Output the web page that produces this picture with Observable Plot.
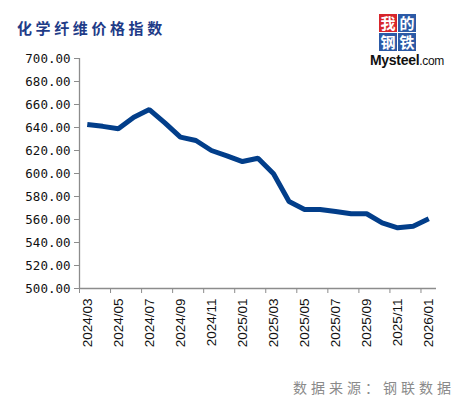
<!DOCTYPE html>
<html>
<head>
<meta charset="utf-8">
<script src="https://cdn.jsdelivr.net/npm/d3@7"></script>
<script src="https://cdn.jsdelivr.net/npm/@observablehq/plot@0.6"></script>
<style>
  html, body { margin: 0; padding: 0; background: #fff; }
  #wrap { position: relative; width: 458px; height: 397px; overflow: hidden; }
  #title { position: absolute; left: 17px; top: 18px; font-family: "Noto Sans CJK SC", sans-serif; font-weight: 700; font-size: 15px; letter-spacing: 3.6px; color: #1f3c88; line-height: 20px; white-space: nowrap; }
  #source { position: absolute; left: 293px; top: 377px; font-family: "Noto Sans CJK SC", sans-serif; font-size: 14px; letter-spacing: 4px; color: #8a8a8a; line-height: 20px; white-space: nowrap; }
  #logo { position: absolute; left: 379px; top: 14px; width: 38px; }
  .cell { position: absolute; width: 18px; height: 18px; color: #fff; font-family: "Noto Sans CJK SC", sans-serif; font-weight: 700; font-size: 15px; line-height: 18px; text-align: center; }
  #mys { position: absolute; left: 370px; top: 51px; font-family: "Liberation Sans", Arial, sans-serif; font-size: 12px; color: #111; white-space: nowrap; line-height: 18px; letter-spacing: -0.3px; }
  #plot { position: absolute; left: 0; top: 0; }
</style>
</head>
<body>
<div id="wrap">
  <div id="plot"></div>
  <div id="title"></div>
  <div id="logo">
    <div class="cell" style="left:0;top:0;background:#d7262c;">我</div>
    <div class="cell" style="left:19px;top:0;background:#2c5aa6;">的</div>
    <div class="cell" style="left:0;top:19px;background:#2c5aa6;">钢</div>
    <div class="cell" style="left:19px;top:19px;background:#2c5aa6;">铁</div>
  </div>
  <div id="mys"><b style="font-size:14px;">Mysteel</b>.com</div>
  <div id="source"></div>
</div>
<script>
const titleText = "化学纤维价格指数";
const sourceText = "数据来源：钢联数据";
const months = ["2024/03","2024/04","2024/05","2024/06","2024/07","2024/08","2024/09","2024/10","2024/11","2024/12",
  "2025/01","2025/02","2025/03","2025/04","2025/05","2025/06","2025/07","2025/08","2025/09","2025/10","2025/11","2025/12","2026/01"];
const values = [642.6, 641.0, 638.9, 649.0, 655.6, 644.0, 631.6, 628.7, 620.0, 615.4,
  610.4, 613.3, 599.7, 575.6, 568.7, 568.7, 567.0, 565.0, 565.0, 557.1, 552.8, 554.2, 560.6];
const yTicks = [500, 520, 540, 560, 580, 600, 620, 640, 660, 680, 700];

document.getElementById("title").textContent = titleText;
document.getElementById("source").textContent = sourceText;

const data = months.map((m, i) => ({i, m, v: values[i]}));
const labelIdx = months.map((m, i) => i).filter(i => i % 2 === 0);
const boundaries = labelIdx.map(i => i - 0.5);
const axisColor = "#8c8c8c";

const chart = Plot.plot({
  width: 458,
  height: 397,
  marginLeft: 79,
  marginRight: 22,
  marginTop: 58,
  marginBottom: 109,
  x: {type: "linear", domain: [-0.5, months.length - 0.5]},
  y: {domain: [500, 700]},
  marks: [
    Plot.axisY({ticks: yTicks, tickFormat: d3.format(".2f"), tickSize: 5, tickPadding: 4, stroke: axisColor, fill: "#111",
      fontFamily: "DejaVu Sans Mono, monospace", fontSize: 12.5, label: null}),
    Plot.axisX({ticks: labelIdx, tickFormat: i => months[i], tickSize: 0, tickPadding: 10, tickRotate: -90,
      fill: "#111", fontFamily: "Liberation Sans, Arial, sans-serif", fontSize: 13.5, label: null}),
    Plot.axisX({ticks: boundaries, tickFormat: () => "", tickSize: 5, stroke: axisColor, label: null}),
    Plot.ruleY([500], {stroke: axisColor, strokeWidth: 1.3}),
    Plot.ruleX([-0.5], {stroke: axisColor, strokeWidth: 1.3}),
    Plot.line(data, {x: "i", y: "v", stroke: "#023e8a", strokeWidth: 5, strokeLinejoin: "miter", strokeLinecap: "butt"})
  ]
});
document.getElementById("plot").appendChild(chart);
</script>
</body>
</html>
